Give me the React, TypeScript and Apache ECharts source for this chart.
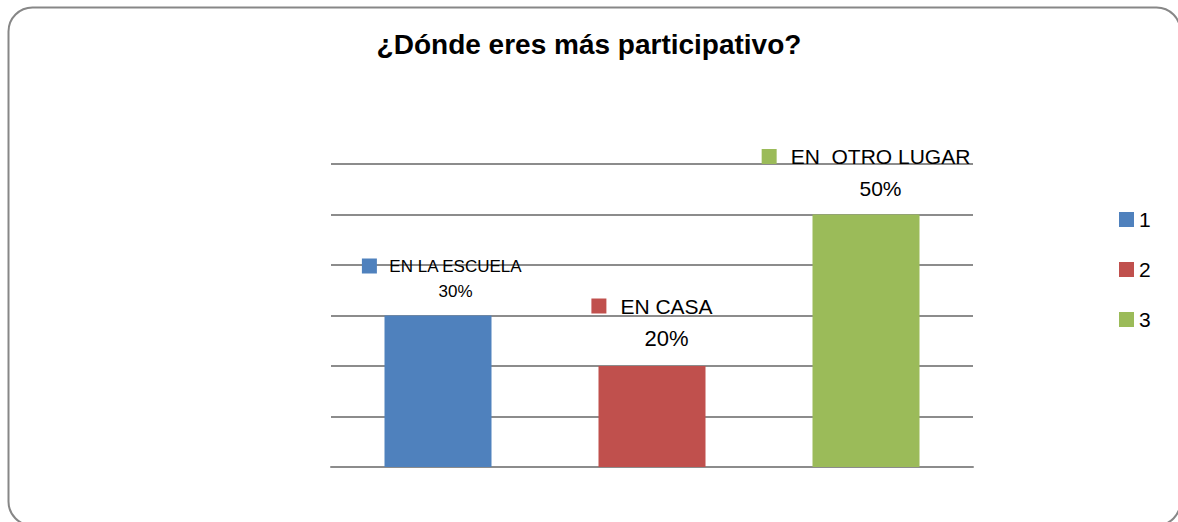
import React, { useEffect, useRef } from "react";
import * as echarts from "echarts";

const categories = ["1", "2", "3"];
const labelNames = ["EN LA ESCUELA", "EN CASA", "EN  OTRO LUGAR"];
const values = [30, 20, 50];
const yTicks = [0, 10, 20, 30, 40, 50, 60];

const colors = ["#4F81BD", "#C0504D", "#9BBB59"];
const nameSizes = [17, 21, 21];
const pctSizes = [17, 22, 21];
const lineHeights = [25, 32, 32];
const distances = [12, 12, 10];
const offsetsX = [4, 0, 0];

const FONT = "'Liberation Sans', Arial, sans-serif";

export default function App() {
  const ref = useRef<HTMLDivElement>(null);

  useEffect(() => {
    if (!ref.current) return;
    const chart = echarts.init(ref.current, undefined, { renderer: "svg" });

    const series = categories.map((cat, i) => ({
      name: cat,
      type: "bar",
      stack: "all",
      barCategoryGap: "50%",
      data: categories.map((_, j) => (j === i ? values[i] : "-")),
      itemStyle: { color: colors[i] },
      label: {
        show: true,
        position: "top",
        distance: distances[i],
        offset: [offsetsX[i], 0],
        align: "center",
        fontFamily: FONT,
        formatter: (p: any) =>
          p.value === "-" || p.value == null
            ? ""
            : `{sq|}{gap|}{nm|${labelNames[i]}}\n{pad|}{pct|${p.value}%}`,
        rich: {
          sq: { width: 15, height: 15, backgroundColor: colors[i] },
          gap: { width: i === 0 ? 12 : 14 },
          nm: {
            fontSize: nameSizes[i],
            lineHeight: lineHeights[i],
            color: "#000",
            fontFamily: FONT,
          },
          pad: { width: i === 0 ? 27 : 29 },
          pct: {
            fontSize: pctSizes[i],
            lineHeight: lineHeights[i],
            color: "#000",
            fontFamily: FONT,
          },
        },
      },
    }));

    chart.setOption({
      animation: false,
      textStyle: { fontFamily: FONT },
      graphic: [
        {
          type: "rect",
          shape: { x: 8.5, y: 7.5, width: 1172, height: 518, r: 24 },
          style: { fill: "none", stroke: "#878787", lineWidth: 2 },
          silent: true,
          z: -10,
        },
      ],
      title: {
        text: "¿Dónde eres más participativo?",
        left: "center",
        top: 25,
        padding: [5, 5, 5, 13],
        textStyle: {
          fontFamily: FONT,
          fontSize: 28,
          fontWeight: "bold",
          color: "#000",
        },
      },
      legend: {
        data: categories,
        orient: "vertical",
        left: 1119,
        top: 209,
        padding: 0,
        itemWidth: 15,
        itemHeight: 15,
        itemGap: 29,
        icon: "rect",
        textStyle: { fontFamily: FONT, fontSize: 21, lineHeight: 20, color: "#000" },
      },
      grid: { left: 331, right: 205, top: 164, bottom: 55, containLabel: false },
      xAxis: {
        type: "category",
        data: categories,
        axisLine: { show: true, lineStyle: { color: "#8C8C8C", width: 2 } },
        axisTick: { show: false },
        axisLabel: { show: false },
      },
      yAxis: {
        type: "value",
        min: yTicks[0],
        max: yTicks[yTicks.length - 1],
        interval: yTicks[1] - yTicks[0],
        axisLine: { show: false },
        axisTick: { show: false },
        axisLabel: { show: false },
        splitLine: { show: true, lineStyle: { color: "#8C8C8C", width: 2 } },
      },
      series,
    });

    return () => chart.dispose();
  }, []);

  return (
    <div
      ref={ref}
      style={{ position: "fixed", left: 0, top: 0, width: 1178, height: 522, background: "#fff" }}
    />
  );
}
